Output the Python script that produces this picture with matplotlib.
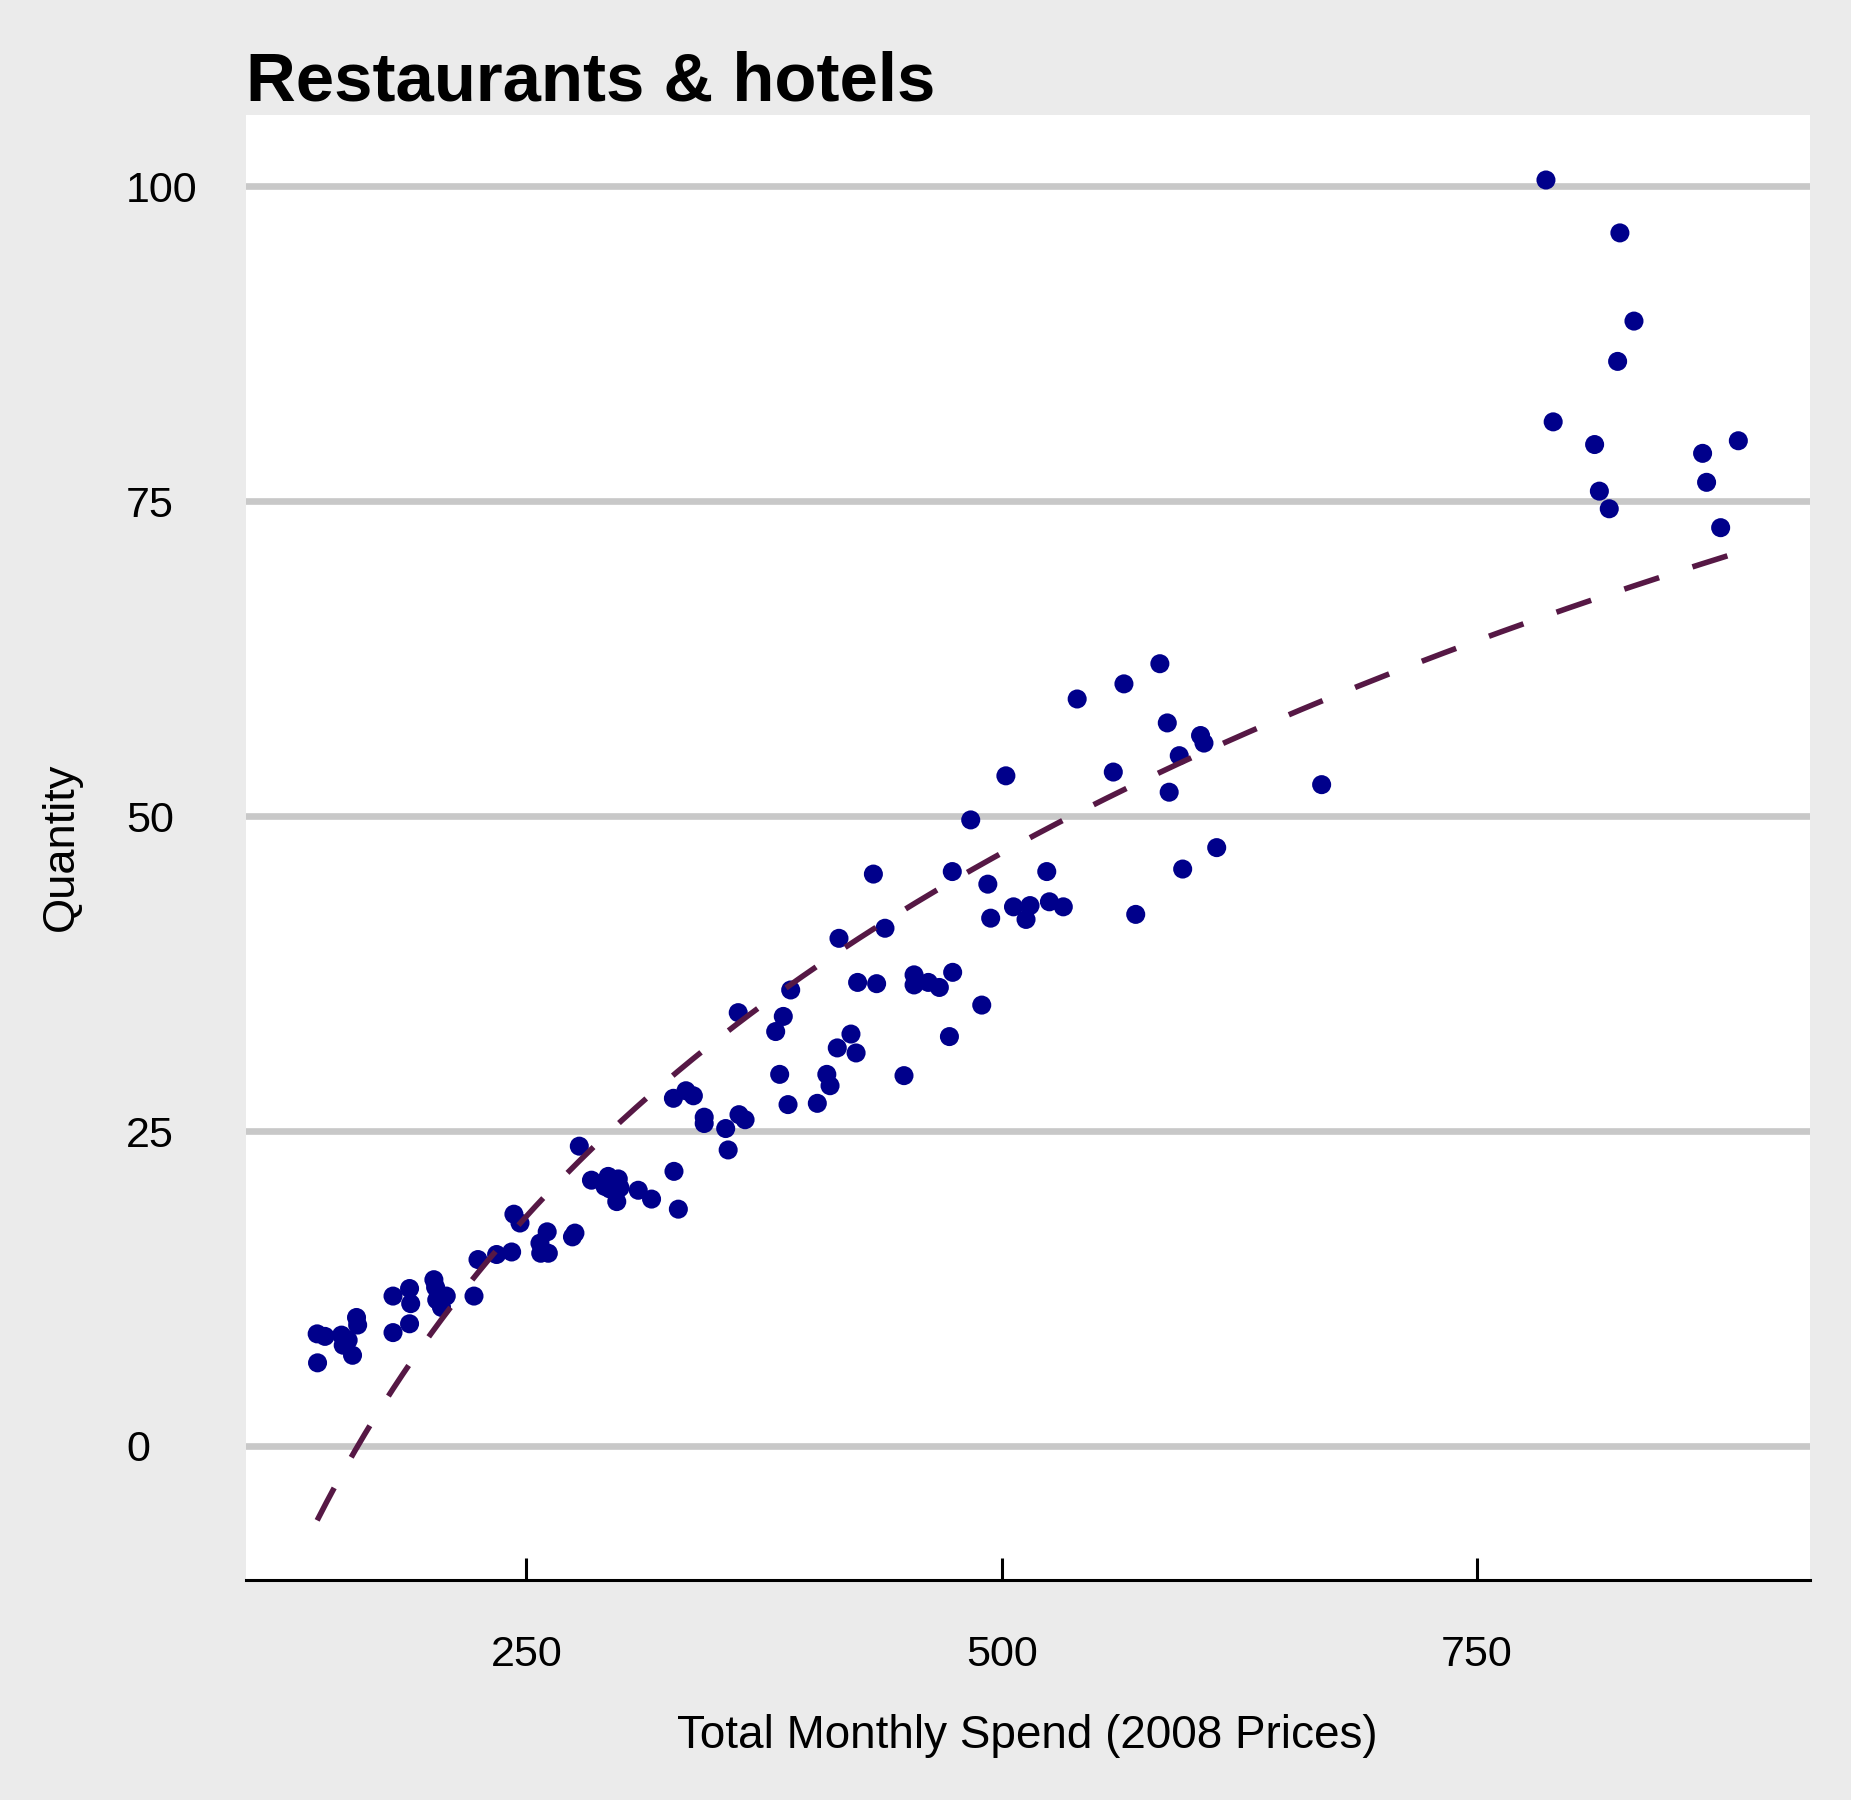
import numpy as np
import matplotlib
matplotlib.use("Agg")
import matplotlib.pyplot as plt

# ---- data ----
spend = [
    139.9, 144.0, 140.1, 152.7, 154.5, 156.2, 153.6, 160.6, 161.2, 158.5,
    179.8, 188.5, 189.1, 179.8, 188.5, 201.3, 202.2, 202.8, 207.8, 205.3,
    222.4, 224.5, 234.3, 242.2, 243.4, 246.6, 260.9, 257.1, 257.5, 261.5,
    274.2, 275.5, 277.8, 284.2, 293.0, 298.3, 293.9, 299.2, 291.3, 297.5,
    308.8, 315.8, 327.6, 329.9,
    327.3, 333.9, 337.8, 343.5, 343.5, 354.8, 361.8, 365.0, 356.1, 361.4,
    389.0, 385.1, 381.1, 383.2, 387.6, 403.0, 408.0, 409.7, 413.5, 420.7,
    423.4, 448.6, 472.5, 424.2, 434.2, 453.9, 453.9, 461.4, 467.2, 474.2,
    489.5,
    432.5, 474.0, 523.7, 492.7, 494.2, 506.2, 514.9, 512.8, 525.1, 532.4,
    570.5, 414.4, 438.6,
    539.7, 564.3, 583.2, 587.1, 604.6, 606.4, 593.4, 558.7, 502.2, 588.1,
    668.3, 483.7, 613.1, 595.2,
    786.3, 825.2, 832.6, 824.0, 790.1, 811.9, 868.7, 887.5, 870.8, 814.4,
    819.6, 878.2,
]
quantity = [
    8.9, 8.7, 6.6, 8.8, 8.5, 8.4, 8.0, 10.2, 9.6, 7.2,
    11.9, 12.5, 11.3, 9.0, 9.7, 13.2, 12.6, 11.6, 11.9, 11.0,
    11.9, 14.8, 15.2, 15.4, 18.4, 17.7, 17.0, 16.1, 15.3, 15.3,
    16.6, 16.9, 23.8, 21.1, 21.4, 21.2, 20.4, 20.5, 20.6, 19.4,
    20.3, 19.6, 21.8, 18.8,
    27.6, 28.2, 27.8, 26.1, 25.6, 25.2, 26.3, 25.9, 23.5, 34.4,
    36.2, 34.1, 32.9, 29.5, 27.1, 27.2, 29.5, 28.6, 31.6, 32.7,
    31.2, 29.4, 32.5, 36.8, 36.7, 37.4, 36.6, 36.8, 36.4, 37.6,
    35.0,
    45.4, 45.6, 45.6, 44.6, 41.9, 42.8, 42.9, 41.8, 43.2, 42.8,
    42.2, 40.3, 41.1,
    59.3, 60.5, 62.1, 57.4, 56.4, 55.8, 54.8, 53.5, 53.2, 51.9,
    52.5, 49.7, 47.5, 45.8,
    100.5, 96.3, 89.3, 86.1, 81.3, 79.5, 78.8, 79.8, 76.5, 75.8,
    74.4, 72.9,
]
title = "Restaurants & hotels"
x_label = "Total Monthly Spend (2008 Prices)"
y_label = "Quantity"
x_ticks = [250, 500, 750]
y_ticks = [0, 25, 50, 75, 100]

# ---- style ----
plt.rcParams["font.family"] = ["Liberation Sans", "DejaVu Sans"]
BG = "#EBEBEB"
POINT = "#00008B"
LINE = "#561845"
GRID = "#C8C8C8"

W, H, DPI = 1851, 1800, 200
fig = plt.figure(figsize=(W / DPI, H / DPI), dpi=DPI, facecolor=BG)
left, right, top, bottom = 245.5, 1810, 114.5, 1579.5
ax = fig.add_axes([left / W, 1 - bottom / H, (right - left) / W, (bottom - top) / H])
ax.set_facecolor("white")

x = np.array(spend)
y = np.array(quantity)

ax.scatter(x, y, s=47, color=POINT, edgecolors="none", zorder=3)

# logarithmic fit y = a + b*ln(x)
b, a = np.polyfit(np.log(x), y, 1)
xs = np.linspace(x.min(), x.max(), 300)
ax.plot(xs, a + b * np.log(xs), color=LINE, lw=2.0,
        linestyle=(0, (6.6, 6.3)), zorder=4, dash_capstyle="butt")

ax.set_xlim(102.2, 925.2)
ax.set_ylim(-10.6, 105.7)

ax.set_xticks(x_ticks)
ax.set_xticklabels([str(t) for t in x_ticks])
ax.set_yticks(y_ticks)
ax.set_yticklabels([str(t) for t in y_ticks])

ax.yaxis.grid(True, color=GRID, linewidth=2.4)
ax.xaxis.grid(False)
ax.set_axisbelow(True)

for s in ["left", "right", "top"]:
    ax.spines[s].set_visible(False)
ax.spines["bottom"].set_color("black")
ax.spines["bottom"].set_linewidth(1.1)

ax.tick_params(axis="x", direction="in", length=7.8, width=1.1, color="black",
               pad=20, labelsize=15.5, labelcolor="black")
ax.tick_params(axis="y", length=0, pad=43, labelsize=15.5, labelcolor="black")
for lab in ax.get_yticklabels():
    lab.set_horizontalalignment("left")

ax.set_xlabel(x_label, fontsize=16.5, labelpad=14, color="black")
ax.set_ylabel(y_label, fontsize=16.3, labelpad=16, color="black")
ax.set_title(title, loc="left", fontsize=24.8, fontweight="bold", pad=3, color="black")

fig.savefig("out.png", dpi=DPI, facecolor=BG)
